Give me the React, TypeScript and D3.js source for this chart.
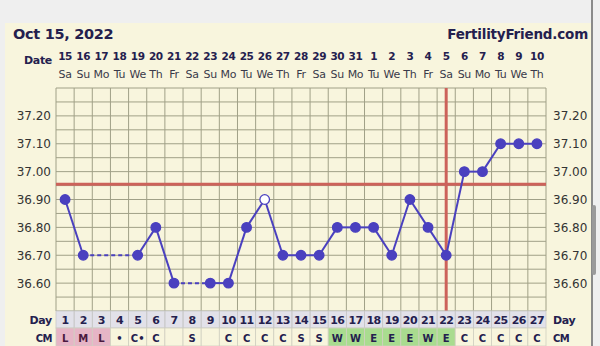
import React from "react";
import * as d3 from "d3";

const days = d3.range(1, 28);
const dates = ["15","16","17","18","19","20","21","22","23","24","25","26","27","28","29","30","31","1","2","3","4","5","6","7","8","9","10"];
const weekdays = ["Sa","Su","Mo","Tu","We","Th","Fr","Sa","Su","Mo","Tu","We","Th","Fr","Sa","Su","Mo","Tu","We","Th","Fr","Sa","Su","Mo","Tu","We","Th"];
const temps: (number | null)[] = [36.9,36.7,null,null,36.7,36.8,36.6,null,36.6,36.6,36.8,36.9,36.7,36.7,36.7,36.8,36.8,36.8,36.7,36.9,36.8,36.7,37.0,37.0,37.1,37.1,37.1];
const openDays = [12];
const cm = ["L","M","L","•","C•","C","","S","","C","C","C","C","S","S","W","W","E","E","E","W","E","C","C","C","C","C"];
const cmKind = ["p","p","p","","","","","","","","","","","","","g","g","g","g","g","g","g","","","","",""];
const yTicks = [37.2,37.1,37.0,36.9,36.8,36.7,36.6];
const coverline = 36.955;
const ovulationDay = 22;

const W = 600, H = 346;
const X0 = 56, X1 = 546, Y0 = 88, Y1 = 311;
const FONT = "'DejaVu Sans', Verdana, sans-serif";
const NAVY = "#24204e";
const CREAM = "#f8f5dd";
const GRID = "#a0a087";
const BLUE = "#4a40bf";
const RED = "#cc625a";

export default function App() {
  const x = d3.scaleBand<number>().domain(days).range([X0, X1]);
  const cx = (d: number) => (x(d) as number) + x.bandwidth() / 2;
  const y = d3.scaleLinear().domain([36.5, 37.3]).range([Y1, Y0]);
  const gridVals = d3.range(0, 17).map((i) => 36.5 + i * 0.05);

  const pts = days.map((d, i) => ({ d, t: temps[i] })).filter((p) => p.t !== null) as { d: number; t: number }[];
  const segs: { a: { d: number; t: number }; b: { d: number; t: number }; dashed: boolean }[] = [];
  for (let i = 1; i < pts.length; i++) {
    segs.push({ a: pts[i - 1], b: pts[i], dashed: pts[i].d - pts[i - 1].d > 1 });
  }
  const bw = x.bandwidth();

  return (
    <svg width={W} height={H} style={{ position: "absolute", left: 0, top: 0 }} fontFamily={FONT}>
      <rect x={0} y={0} width={W} height={H} fill="#efefef" />
      <rect x={5} y={23} width={586} height={H - 23} fill={CREAM} />
      <rect x={591} y={0} width={2} height={H} fill="#8a8a8a" />
      <rect x={592} y={205} width={4} height={70} rx={2} fill="#9a9a9a" />

      <text x={13} y={39} fontSize={14.5} fontWeight="bold" fill={NAVY} letterSpacing={-0.3}>Oct 15, 2022</text>
      <text x={588} y={39} fontSize={13.5} fontWeight="bold" fill={NAVY} textAnchor="end" letterSpacing={-0.2}>FertilityFriend.com</text>

      <text x={52} y={64} fontSize={11} fontWeight="bold" fill={NAVY} textAnchor="end" letterSpacing={-0.3}>Date</text>
      {days.map((d, i) => (
        <g key={"h" + d}>
          <text x={cx(d)} y={60} fontSize={10.5} fontWeight="bold" fill={NAVY} textAnchor="middle" letterSpacing={-0.4}>{dates[i]}</text>
          <text x={cx(d)} y={78} fontSize={11} fill="#3a3a4a" textAnchor="middle" letterSpacing={-0.3}>{weekdays[i]}</text>
        </g>
      ))}

      {gridVals.map((v, i) => (
        <line key={"gy" + i} x1={X0} x2={X1} y1={y(v)} y2={y(v)} stroke={GRID} strokeWidth={1} />
      ))}
      {days.map((d) => (
        <line key={"gx" + d} x1={x(d)} x2={x(d)} y1={Y0} y2={Y1} stroke={GRID} strokeWidth={1} />
      ))}
      <line x1={X1} x2={X1} y1={Y0} y2={Y1} stroke={GRID} strokeWidth={1} />

      {yTicks.map((v) => (
        <g key={"t" + v}>
          <text x={51} y={y(v) + 4.5} fontSize={12} fill="#333" textAnchor="end">{v.toFixed(2)}</text>
          <text x={553} y={y(v) + 4.5} fontSize={12} fill="#333">{v.toFixed(2)}</text>
        </g>
      ))}

      <line x1={X0} x2={X1} y1={y(coverline)} y2={y(coverline)} stroke={RED} strokeWidth={3} />
      <line x1={cx(ovulationDay)} x2={cx(ovulationDay)} y1={Y0} y2={Y1} stroke={RED} strokeWidth={3} />

      {segs.map((s, i) => (
        <line key={"s" + i} x1={cx(s.a.d)} y1={y(s.a.t)} x2={cx(s.b.d)} y2={y(s.b.t)} stroke={BLUE} strokeWidth={2} strokeDasharray={s.dashed ? "4,3" : undefined} />
      ))}
      {pts.map((p) => (
        <circle key={"p" + p.d} cx={cx(p.d)} cy={y(p.t)} r={4.8} fill={openDays.includes(p.d) ? "#ffffff" : BLUE} stroke={BLUE} strokeWidth={1.3} />
      ))}

      <rect x={X0} y={Y1} width={X1 - X0} height={17} fill="#e2e1e9" />
      {days.map((d, i) => (
        <g key={"r" + d}>
          <rect x={x(d)} y={Y1} width={bw} height={17} fill="none" stroke="#c8c8c8" strokeWidth={0.8} />
          <text x={cx(d)} y={Y1 + 13} fontSize={11} fontWeight="bold" fill={NAVY} textAnchor="middle" letterSpacing={-0.6}>{d}</text>
          <rect x={x(d)} y={Y1 + 17} width={bw} height={18} fill={cmKind[i] === "p" ? "#e6b5c6" : cmKind[i] === "g" ? "#a9dc8f" : CREAM} stroke="#d0cfc0" strokeWidth={0.8} />
          <text x={cx(d)} y={Y1 + 31} fontSize={10} fontWeight="bold" fill={cmKind[i] === "p" ? "#4a1a40" : NAVY} textAnchor="middle">{cm[i]}</text>
        </g>
      ))}
      <text x={52} y={Y1 + 13} fontSize={11} fontWeight="bold" fill={NAVY} textAnchor="end" letterSpacing={-0.3}>Day</text>
      <text x={52} y={Y1 + 31} fontSize={10} fontWeight="bold" fill={NAVY} textAnchor="end" letterSpacing={-0.5}>CM</text>
      <text x={553} y={Y1 + 13} fontSize={11} fontWeight="bold" fill={NAVY} letterSpacing={-0.3}>Day</text>
      <text x={553} y={Y1 + 31} fontSize={10} fontWeight="bold" fill={NAVY} letterSpacing={-0.5}>CM</text>
    </svg>
  );
}
